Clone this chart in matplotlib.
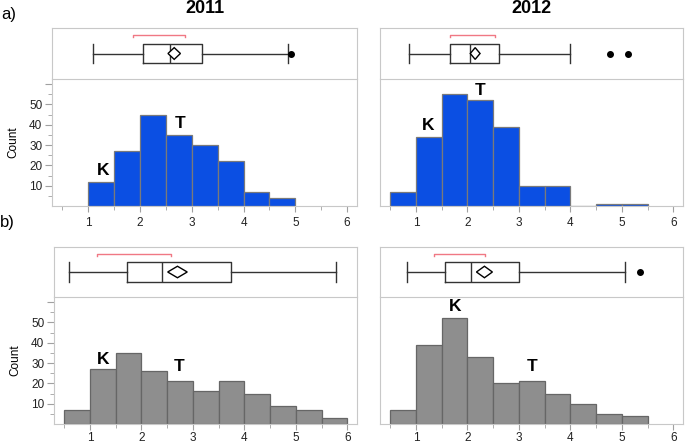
import matplotlib.pyplot as plt

plt.rcParams['font.family'] = ['Liberation Sans', 'DejaVu Sans']

# histogram bins (left edges, width 0.5) and counts
left_a2011 = [1.0, 1.5, 2.0, 2.5, 3.0, 3.5, 4.0, 4.5]
count_a2011 = [12, 27, 45, 35, 30, 22, 7, 4]
left_a2012 = [0.5, 1.0, 1.5, 2.0, 2.5, 3.0, 3.5, 4.0, 4.5, 5.0]
count_a2012 = [7, 34, 55, 52, 39, 10, 10, 0, 1, 1]
left_b2011 = [0.5, 1.0, 1.5, 2.0, 2.5, 3.0, 3.5, 4.0, 4.5, 5.0, 5.5]
count_b2011 = [7, 27, 35, 26, 21, 16, 21, 15, 9, 7, 3]
left_b2012 = [0.5, 1.0, 1.5, 2.0, 2.5, 3.0, 3.5, 4.0, 4.5, 5.0]
count_b2012 = [7, 39, 52, 33, 20, 21, 15, 10, 5, 4]

# box plot summaries: whislo, q1, med, q3, whishi
box_a2011 = [1.09, 2.05, 2.58, 3.19, 4.85]
box_a2012 = [0.87, 1.66, 2.04, 2.62, 3.99]
box_b2011 = [0.60, 1.72, 2.40, 3.74, 5.78]
box_b2012 = [0.82, 1.56, 2.07, 3.00, 5.07]
fliers_a2011 = [4.92]
fliers_a2012 = [4.78, 5.12]
fliers_b2011 = []
fliers_b2012 = [5.35]
# mean and half width of its confidence diamond
mean_a2011, ci_a2011 = 2.66, 0.12
mean_a2012, ci_a2012 = 2.15, 0.095
mean_b2011, ci_b2011 = 2.70, 0.19
mean_b2012, ci_b2012 = 2.33, 0.155
# shortest half bracket
short_a2011 = [1.86, 2.86]
short_a2012 = [1.66, 2.54]
short_b2011 = [1.13, 2.57]
short_b2012 = [1.34, 2.35]

# K / T labels (x, count height)
kt_a2011 = [(1.28, 17.4), (2.78, 40.7)]
kt_a2012 = [(1.24, 39.4), (2.24, 56.8)]
kt_b2011 = [(1.25, 31.5), (2.74, 28.2)]
kt_b2012 = [(1.76, 57.6), (3.25, 28.2)]

W, H = 685, 446
fig = plt.figure(figsize=(6.85, 4.46), dpi=100)

def px_axes(x0, y0, x1, y1):
    return fig.add_axes([x0 / W, 1 - y1 / H, (x1 - x0) / W, (y1 - y0) / H])

frame = '#c8c8c8'
tickc = '#a0a0a0'

def panel(x0, x1, ytop, ysep, ybot, lefts, counts, box, fliers, mean, ci,
          short, kt, fc, ec, show_y, xpad):
    bax = px_axes(x0, ytop, x1, ysep)
    hax = px_axes(x0, ysep, x1, ybot)

    # histogram
    hax.bar(lefts, counts, width=0.5, align='edge', color=fc, edgecolor=ec, lw=0.9)
    hax.set_xlim(0.3, 6.19)
    hax.set_ylim(0, 62.5)
    for s in hax.spines.values():
        s.set_color(frame)
    hax.set_xticks([1, 2, 3, 4, 5, 6])
    hax.set_xticks([0.5, 1.5, 2.5, 3.5, 4.5, 5.5], minor=True)
    hax.tick_params(axis='x', which='major', length=4, color=tickc, pad=xpad,
                    labelsize=8.5, labelcolor='#222222')
    hax.tick_params(axis='x', which='minor', length=3, color=tickc)
    if show_y:
        hax.set_yticks([10, 20, 30, 40, 50, 60])
        hax.set_yticklabels(['10', '20', '30', '40', '50', ''])
        hax.set_yticks([5, 15, 25, 35, 45, 55], minor=True)
        hax.tick_params(axis='y', which='major', length=5, color=tickc, pad=2,
                        labelsize=8.5, labelcolor='#222222')
        hax.tick_params(axis='y', which='minor', length=3, color=tickc)
        hax.set_ylabel('Count', fontsize=8.5, labelpad=7)
    else:
        hax.set_yticks([])
    hax.text(kt[0][0], kt[0][1], 'K', fontsize=12.5, fontweight='bold',
             ha='center', va='center')
    hax.text(kt[1][0], kt[1][1], 'T', fontsize=12.5, fontweight='bold',
             ha='center', va='center')

    # box plot
    stats = [dict(whislo=box[0], q1=box[1], med=box[2], q3=box[3], whishi=box[4],
                  fliers=fliers)]
    line = dict(color='#333333', lw=1)
    bax.bxp(stats, positions=[0.5], widths=0.385, capwidths=[0.385],
            orientation='horizontal', boxprops=line, whiskerprops=line,
            capprops=line, medianprops=line,
            flierprops=dict(marker='o', markerfacecolor='black',
                            markeredgecolor='black', markersize=4))
    bax.fill([mean - ci, mean, mean + ci, mean], [0.5, 0.615, 0.5, 0.385],
             facecolor='white', edgecolor='black', lw=1, zorder=4)
    bax.plot([short[0], short[0], short[1], short[1]], [0.83, 0.865, 0.865, 0.83],
             color='#f07884', lw=1)
    bax.set_xlim(0.3, 6.19)
    bax.set_ylim(0, 1)
    bax.set_xticks([])
    bax.set_yticks([])
    for s in bax.spines.values():
        s.set_color(frame)
    bax.spines['bottom'].set_visible(False)


panel(52, 357, 28, 79, 206, left_a2011, count_a2011, box_a2011, fliers_a2011,
      mean_a2011, ci_a2011, short_a2011, kt_a2011, '#0b4fe3', '#7a7a7a', True, 4)
panel(380, 683, 28, 79, 206, left_a2012, count_a2012, box_a2012, fliers_a2012,
      mean_a2012, ci_a2012, short_a2012, kt_a2012, '#0b4fe3', '#7a7a7a', False, 4)
panel(54, 357, 247, 297, 424, left_b2011, count_b2011, box_b2011, fliers_b2011,
      mean_b2011, ci_b2011, short_b2011, kt_b2011, '#8e8e8e', '#666666', True, 2)
panel(380, 683, 247, 297, 424, left_b2012, count_b2012, box_b2012, fliers_b2012,
      mean_b2012, ci_b2012, short_b2012, kt_b2012, '#8e8e8e', '#666666', False, 2)

fig.text(204.5 / W, 1 - 8.5 / H, '2011', ha='center', va='center', fontsize=13, fontweight='bold')
fig.text(531.5 / W, 1 - 8.5 / H, '2012', ha='center', va='center', fontsize=13, fontweight='bold')
fig.text(1 / W, 1 - 14 / H, 'a)', ha='left', va='center', fontsize=12)
fig.text(0 / W, 1 - 223 / H, 'b)', ha='left', va='center', fontsize=12)

fig.savefig('out.png', dpi=100)
